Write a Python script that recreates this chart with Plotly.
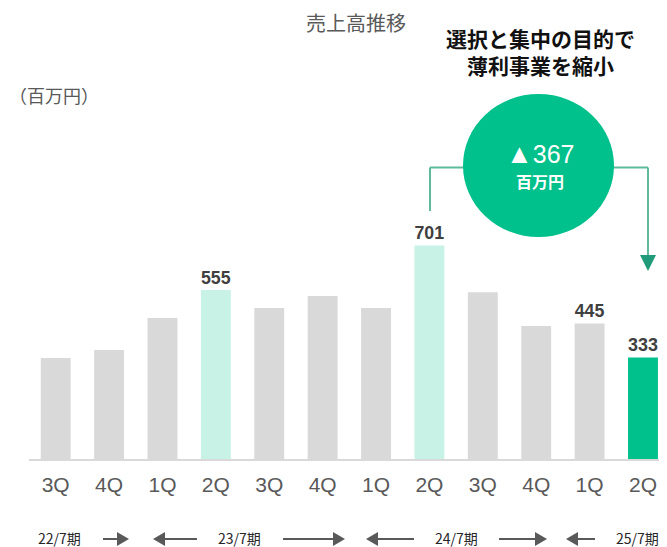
import plotly.graph_objects as go

# ---------------- data ----------------
quarters = ["3Q", "4Q", "1Q", "2Q", "3Q", "4Q", "1Q", "2Q", "3Q", "4Q", "1Q", "2Q"]
sales = [332, 358, 463, 555, 496, 535, 496, 701, 548, 437, 445, 333]
shown_labels = ["", "", "", "555", "", "", "", "701", "", "", "445", "333"]
periods = ["22/7期", "23/7期", "24/7期", "25/7期"]
period_pos = [0.08, 3.45, 7.51, 10.9]
title_text = "売上高推移"
unit_text = "（百万円）"
callout_text = "選択と集中の目的で<br>薄利事業を縮小"
change_text = "<span style='font-size:27px'>▲</span>367"
change_unit = "百万円"

# ---------------- styling ----------------
GRAY = "#D9D9D9"
LIGHT_GREEN = "#C8F2E6"
GREEN = "#00C08B"
bar_colors = [GRAY] * len(sales)
bar_colors[3] = LIGHT_GREEN
bar_colors[7] = LIGHT_GREEN
bar_colors[11] = GREEN

OFF = 8                      # browser body margin
W, H = 667 - OFF, 547 - OFF
L, R, T, B = 29 - OFF, 0, 40, 547 - 459
PW, PH = W - L - R, H - T - B
PX_PER_UNIT = 0.3045


def px(x):  # x in page pixels
    return (x - OFF - L) / PW


def py(y):  # y in page pixels
    return (H - B - (y - OFF)) / PH


xs = list(range(len(quarters)))

fig = go.Figure(
    go.Bar(
        x=xs,
        y=sales,
        width=0.56,
        marker=dict(color=bar_colors, line=dict(width=0)),
        text=shown_labels,
        textposition="outside",
        textfont=dict(family="Liberation Sans", size=21, color="#404040", weight="bold"),
        cliponaxis=False,
        hoverinfo="skip",
    )
)

shapes = []
LINE_C = "#5DBB9C"
for (x0, y0, x1, y1) in [
    (430, 211, 430, 167.5),
    (430, 167.5, 475, 167.5),
    (600, 167.5, 648, 167.5),
    (648, 167.5, 648, 258),
]:
    shapes.append(dict(type="line", xref="paper", yref="paper",
                       x0=px(x0), y0=py(y0), x1=px(x1), y1=py(y1),
                       line=dict(color=LINE_C, width=2)))
shapes.append(dict(type="path", xref="paper", yref="paper",
                   path=f"M{px(640)},{py(255)} L{px(656)},{py(255)} L{px(648)},{py(271)} Z",
                   fillcolor="#1F9B79", line=dict(width=0)))
shapes.append(dict(type="circle", xref="paper", yref="paper",
                   x0=px(463), x1=px(614), y0=py(237), y1=py(94),
                   fillcolor=GREEN, line=dict(width=0)))

ARROW_C = "#595959"
AY = 539
for (xa, xb, d) in [(103, 129, 1), (153, 197, -1), (283, 345, 1), (366, 414, -1),
                    (499, 547, 1), (566, 595, -1)]:
    head = 12
    if d == 1:
        shapes.append(dict(type="line", xref="paper", yref="paper",
                           x0=px(xa), x1=px(xb - head), y0=py(AY), y1=py(AY),
                           line=dict(color=ARROW_C, width=2)))
        shapes.append(dict(type="path", xref="paper", yref="paper",
                           path=f"M{px(xb-head)},{py(AY-7)} L{px(xb)},{py(AY)} L{px(xb-head)},{py(AY+7)} Z",
                           fillcolor=ARROW_C, line=dict(width=0)))
    else:
        shapes.append(dict(type="line", xref="paper", yref="paper",
                           x0=px(xa + head), x1=px(xb), y0=py(AY), y1=py(AY),
                           line=dict(color=ARROW_C, width=2)))
        shapes.append(dict(type="path", xref="paper", yref="paper",
                           path=f"M{px(xa+head)},{py(AY-7)} L{px(xa)},{py(AY)} L{px(xa+head)},{py(AY+7)} Z",
                           fillcolor=ARROW_C, line=dict(width=0)))

annotations = [
    dict(text=title_text, xref="paper", yref="paper", x=px(356), y=py(22),
         xanchor="center", yanchor="middle", showarrow=False, borderpad=0,
         font=dict(family="Noto Sans CJK JP", size=20, color="#595959")),
    dict(text=unit_text, xref="paper", yref="paper", x=px(100), y=py(95),
         xanchor="right", yanchor="middle", showarrow=False, borderpad=0,
         font=dict(family="Noto Sans CJK JP", size=18, color="#595959")),
    dict(text=callout_text, xref="paper", yref="paper", x=px(540), y=py(52),
         xanchor="center", yanchor="middle", showarrow=False,
         font=dict(family="Noto Sans CJK JP", size=21, color="#111111", weight="bold")),
    dict(text=change_text, xref="paper", yref="paper", x=px(540), y=py(154),
         xanchor="center", yanchor="middle", showarrow=False,
         font=dict(family="Liberation Sans", size=25, color="white")),
    dict(text=change_unit, xref="paper", yref="paper", x=px(540), y=py(181),
         xanchor="center", yanchor="middle", showarrow=False,
         font=dict(family="Noto Sans CJK JP", size=16, color="white", weight="bold")),
]
for p, xp in zip(periods, period_pos):
    annotations.append(dict(text=p, xref="x", yref="paper", x=xp, y=py(538),
                            xanchor="center", yanchor="middle", showarrow=False,
                            borderpad=0,
                            font=dict(family="Noto Sans CJK JP", size=14, color="#262626")))

fig.update_layout(
    width=W, height=H,
    margin=dict(l=L, r=R, t=T, b=B, pad=0),
    paper_bgcolor="white", plot_bgcolor="white",
    showlegend=False,
    bargap=0.44,
    shapes=shapes,
    annotations=annotations,
    xaxis=dict(
        range=[-0.5, 11.45], tickmode="array", tickvals=xs, ticktext=quarters,
        showline=True, linecolor=GRAY, linewidth=2, showgrid=False, zeroline=False,
        ticks="", ticklabelstandoff=6,
        tickfont=dict(family="Liberation Sans", size=21, color="#595959"),
        fixedrange=True,
    ),
    yaxis=dict(range=[0, PH / PX_PER_UNIT], visible=False, showgrid=False,
               zeroline=False, fixedrange=True),
)

fig.write_html("out.html")
